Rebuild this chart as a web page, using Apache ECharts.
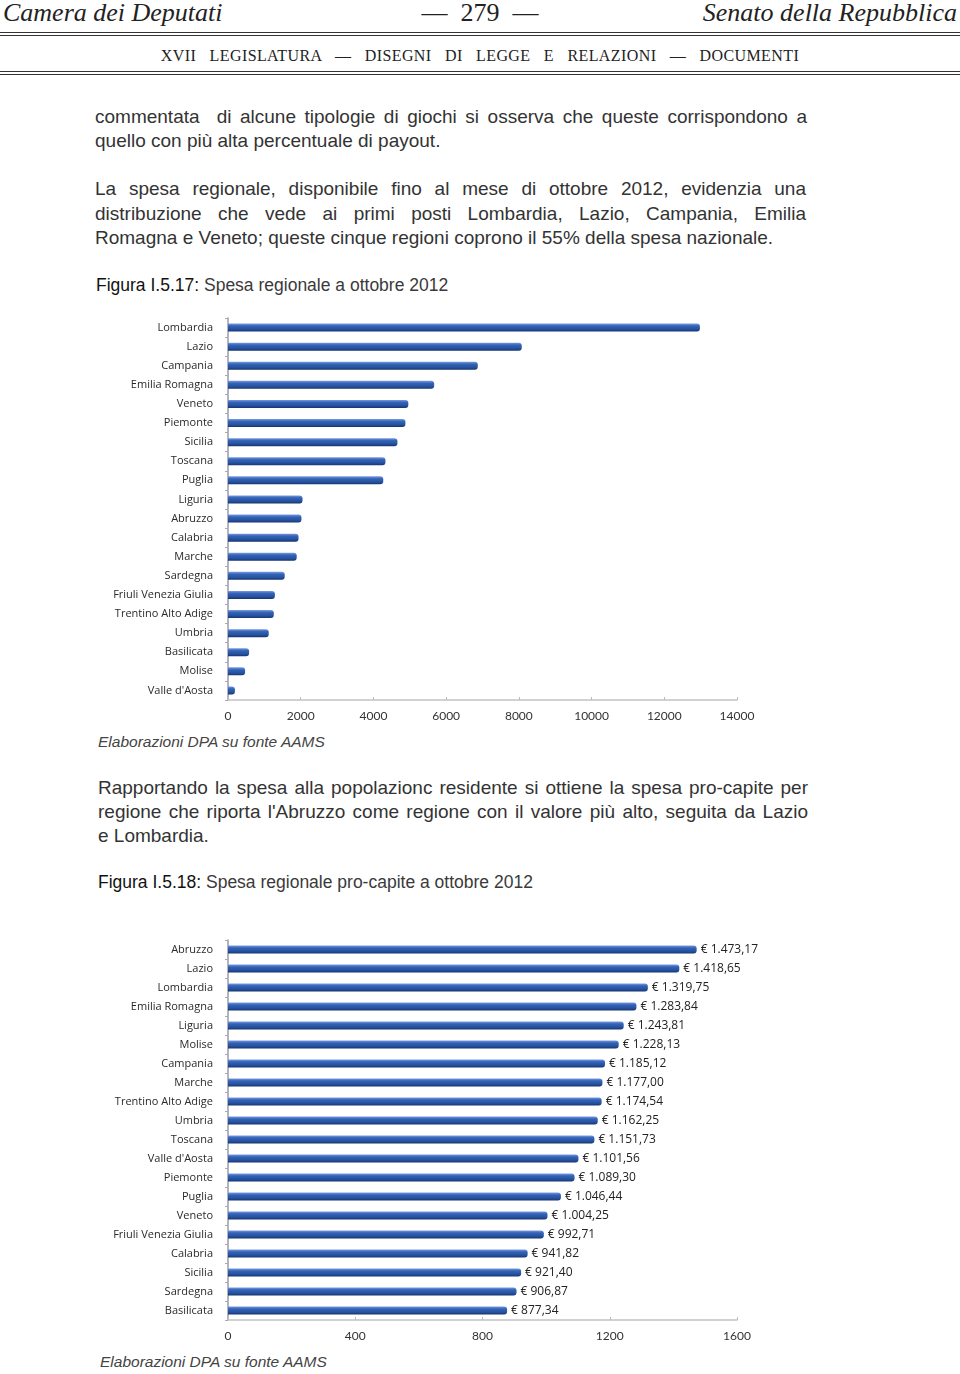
<!DOCTYPE html>
<html>
<head>
<meta charset="utf-8">
<script src="https://cdn.jsdelivr.net/npm/echarts@6/dist/echarts.min.js"></script>
<style>
  html, body { margin: 0; padding: 0; background: #fff; }
  body { width: 960px; height: 1374px; position: relative; overflow: hidden; color: #2b2b2b; }
  .abs { position: absolute; white-space: nowrap; }
  .hdr { font-family: "Liberation Serif", "DejaVu Serif", serif; font-style: italic; font-size: 26px; top: -1px; line-height: 28px; color: #222; }
  .sub { font-family: "Liberation Serif", "DejaVu Serif", serif; font-size: 16px; top: 46px; left: 0; width: 960px; text-align: center; line-height: 20px; color: #222; word-spacing: 9px; letter-spacing: 0.4px; }
  .rule { position: absolute; left: 0; width: 960px; height: 0; border-top: 1.5px solid #333; }
  .line { position: absolute; font-family: "Liberation Sans Narrow", "Liberation Sans", Arial, sans-serif; font-size: 19px; line-height: 24px; color: #333; white-space: nowrap; }
  .just { text-align: justify; text-align-last: justify; white-space: normal; }
  .fig { position: absolute; font-family: "Liberation Sans Narrow", "Liberation Sans", Arial, sans-serif; font-size: 17.5px; line-height: 20px; color: #3a3a3a; white-space: nowrap; }
  .fig b { font-weight: normal; color: #111; }
  .src { position: absolute; font-family: "Liberation Sans", Arial, sans-serif; font-style: italic; font-size: 15.5px; line-height: 18px; color: #444; white-space: nowrap; }
  .chart { position: absolute; left: 0; width: 960px; }
</style>
</head>
<body>
<div class="abs hdr" style="left:3px;">Camera dei Deputati</div>
<div class="abs hdr" style="left:0;width:960px;text-align:center;font-style:normal;">—&nbsp;&nbsp;279&nbsp;&nbsp;—</div>
<div class="abs hdr" style="right:3px;">Senato della Repubblica</div>
<div class="rule" style="top:32px;"></div>
<div class="rule" style="top:35px;border-top-width:1px;"></div>
<div class="abs sub">XVII LEGISLATURA — DISEGNI DI LEGGE E RELAZIONI — DOCUMENTI</div>
<div class="rule" style="top:71px;"></div>
<div class="rule" style="top:74px;border-top-width:1px;"></div>

<div class="line just" style="left:95px;width:712px;top:105px;">commentata&nbsp; di alcune tipologie di giochi si osserva che queste corrispondono a</div>
<div class="line" style="left:95px;top:129px;">quello con più alta percentuale di payout.</div>

<div class="line just" style="left:95px;width:711px;top:177px;">La spesa regionale, disponibile fino al mese di ottobre 2012, evidenzia una</div>
<div class="line just" style="left:95px;width:711px;top:202px;">distribuzione che vede ai primi posti Lombardia, Lazio, Campania, Emilia</div>
<div class="line" style="left:95px;top:226px;">Romagna e Veneto; queste cinque regioni coprono il 55% della spesa nazionale.</div>

<div class="fig" style="left:96px;top:275px;"><b>Figura I.5.17:</b> Spesa regionale a ottobre 2012</div>

<div id="chart1" class="chart" style="top:310px;height:420px;"></div>
<div class="src" style="left:98px;top:733px;">Elaborazioni DPA su fonte AAMS</div>

<div class="line just" style="left:98px;width:710px;top:776px;">Rapportando la spesa alla popolazionc residente si ottiene la spesa pro-capite per</div>
<div class="line just" style="left:98px;width:710px;top:800px;">regione che riporta l'Abruzzo come regione con il valore più alto, seguita da Lazio</div>
<div class="line" style="left:98px;top:824px;">e Lombardia.</div>

<div class="fig" style="left:98px;top:872px;"><b>Figura I.5.18:</b> Spesa regionale pro-capite a ottobre 2012</div>

<div id="chart2" class="chart" style="top:930px;height:420px;"></div>
<div class="src" style="left:100px;top:1353px;">Elaborazioni DPA su fonte AAMS</div>

<script>
// Figura I.5.17 - spesa regionale
var regioni1 = ['Lombardia', 'Lazio', 'Campania', 'Emilia Romagna', 'Veneto', 'Piemonte', 'Sicilia',
  'Toscana', 'Puglia', 'Liguria', 'Abruzzo', 'Calabria', 'Marche', 'Sardegna', 'Friuli Venezia Giulia',
  'Trentino Alto Adige', 'Umbria', 'Basilicata', 'Molise', "Valle d'Aosta"];
var spesa1 = [12980, 8080, 6870, 5670, 4960, 4880, 4660, 4330, 4270, 2050, 2020, 1940, 1890, 1560,
  1290, 1260, 1120, 580, 470, 190];
var ticks1 = { min: 0, max: 14000, interval: 2000 };

// Figura I.5.18 - spesa pro-capite
var regioni2 = ['Abruzzo', 'Lazio', 'Lombardia', 'Emilia Romagna', 'Liguria', 'Molise', 'Campania',
  'Marche', 'Trentino Alto Adige', 'Umbria', 'Toscana', "Valle d'Aosta", 'Piemonte', 'Puglia', 'Veneto',
  'Friuli Venezia Giulia', 'Calabria', 'Sicilia', 'Sardegna', 'Basilicata'];
var spesa2 = [1473.17, 1418.65, 1319.75, 1283.84, 1243.81, 1228.13, 1185.12, 1177.00, 1174.54, 1162.25,
  1151.73, 1101.56, 1089.30, 1046.44, 1004.25, 992.71, 941.82, 921.40, 906.87, 877.34];
var ticks2 = { min: 0, max: 1600, interval: 400 };

var barColor = new echarts.graphic.LinearGradient(0, 0, 0, 1, [
  { offset: 0, color: '#7a9be0' },
  { offset: 0.3, color: '#3463b8' },
  { offset: 0.7, color: '#26529f' },
  { offset: 1, color: '#17356f' }
]);

function euro(v) {
  var p = v.toFixed(2).split('.');
  var int = p[0].replace(/\B(?=(\d{3})+(?!\d))/g, '.');
  return '€ ' + int + ',' + p[1];
}

function makeOption(cats, vals, ticks, gridTop, withLabels) {
  return {
    animation: false,
    grid: { left: 228, right: 223, top: gridTop, bottom: 30 },
    xAxis: {
      type: 'value', min: ticks.min, max: ticks.max, interval: ticks.interval,
      axisLine: { show: true, lineStyle: { color: '#c4c4c4', width: 1.5 } },
      axisTick: { show: true, inside: true, length: 3, lineStyle: { color: '#bbb' } },
      splitLine: { show: false },
      axisLabel: {
        margin: 10, color: '#333', fontFamily: 'Lato, "Open Sans", sans-serif', fontSize: 12,
        formatter: function (v) { return String(v); }
      }
    },
    yAxis: {
      type: 'category', data: cats, inverse: true,
      axisLine: { show: true, lineStyle: { color: '#9a9ab0', width: 1.5 } },
      axisTick: { show: true, length: 3, lineStyle: { color: '#aaa' } },
      axisLabel: { margin: 15, color: '#2a2a2a', fontFamily: '"Open Sans", Lato, sans-serif', fontSize: 11 }
    },
    series: [{
      type: 'bar', data: vals, barWidth: 8,
      itemStyle: { color: barColor, borderRadius: [0, 3, 3, 0] },
      label: {
        show: withLabels, position: 'right', distance: 4,
        color: '#222', fontFamily: '"Open Sans", Lato, sans-serif', fontSize: 12,
        formatter: function (p) { return euro(p.value); }
      }
    }]
  };
}

var c1 = echarts.init(document.getElementById('chart1'));
c1.setOption(makeOption(regioni1, spesa1, ticks1, 8, false));
var c2 = echarts.init(document.getElementById('chart2'));
c2.setOption(makeOption(regioni2, spesa2, ticks2, 10, true));
</script>
</body>
</html>
